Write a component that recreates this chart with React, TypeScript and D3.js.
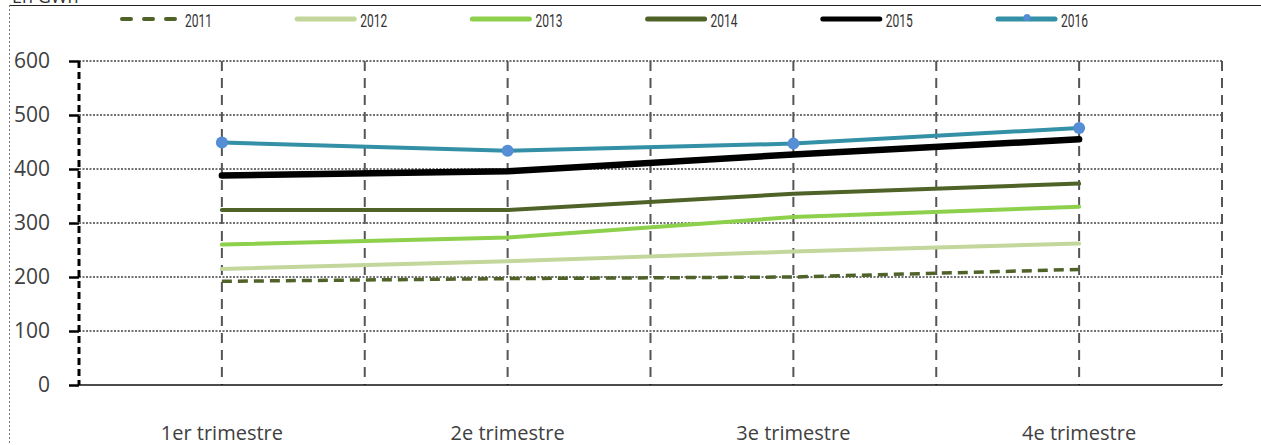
import React, { useEffect, useRef } from "react"
import * as d3 from "d3"

const quarters = ["1er trimestre", "2e trimestre", "3e trimestre", "4e trimestre"]
const years = ["2011", "2012", "2013", "2014", "2015", "2016"]
const values2011 = [192, 197, 200, 214]
const values2012 = [215, 229, 247, 262]
const values2013 = [260, 273, 311, 330]
const values2014 = [324, 324, 354, 373]
const values2015 = [388, 396, 427, 455]
const values2016 = [449, 434, 447, 476]
const yTicks = [0, 100, 200, 300, 400, 500, 600]

const seriesStyle: Record<string, { color: string; width: number; dash?: string; marker?: string }> = {
  "2011": { color: "#4f6228", width: 3.5, dash: "10,6" },
  "2012": { color: "#c3d69b", width: 4 },
  "2013": { color: "#8dd04c", width: 4 },
  "2014": { color: "#4f6228", width: 4 },
  "2015": { color: "#000000", width: 6.5 },
  "2016": { color: "#3390a6", width: 4, marker: "#558ed5" },
}

const W = 1261
const H = 445

export default function App() {
  const svgRef = useRef<SVGSVGElement>(null)

  useEffect(() => {
    document.body.style.margin = "0"
    if (!svgRef.current) return
    const svg = d3.select(svgRef.current)
    svg.selectAll("*").remove()

    const series = [values2011, values2012, values2013, values2014, values2015, values2016]
    const left = 79
    const right = 1222
    const top = 61
    const bottom = 385

    const x = d3.scaleBand<string>().domain(quarters).range([left, right]).padding(0)
    const y = d3.scaleLinear().domain([0, 600]).range([bottom, top])
    const cx = (q: string) => (x(q) || 0) + x.bandwidth() / 2

    // frame
    svg.append("line").attr("x1", 9).attr("x2", W).attr("y1", 5.5).attr("y2", 5.5)
      .attr("stroke", "#222").attr("stroke-width", 1.2)
    svg.append("line").attr("x1", 9.5).attr("x2", 9.5).attr("y1", 5).attr("y2", H)
      .attr("stroke", "#777").attr("stroke-width", 1).attr("stroke-dasharray", "2,2")
    svg.append("text").attr("x", 12).attr("y", 3).attr("font-family", "Open Sans")
      .attr("font-size", 18).attr("fill", "#333").text("En GWh")

    // horizontal grid
    yTicks.filter(t => t > 0).forEach(t => {
      svg.append("line").attr("x1", left).attr("x2", right)
        .attr("y1", y(t)).attr("y2", y(t))
        .attr("stroke", "#444").attr("stroke-width", 1.3).attr("stroke-dasharray", "2,1.5")
    })

    // vertical dashed grid
    const vx: number[] = []
    quarters.forEach(q => {
      vx.push(cx(q))
      vx.push((x(q) || 0) + x.bandwidth())
    })
    vx.forEach(v => {
      svg.append("line").attr("x1", v).attr("x2", v).attr("y1", top).attr("y2", bottom)
        .attr("stroke", "#555").attr("stroke-width", 2).attr("stroke-dasharray", "10,7")
    })

    // x axis line
    svg.append("line").attr("x1", left).attr("x2", right).attr("y1", bottom).attr("y2", bottom)
      .attr("stroke", "#111").attr("stroke-width", 1.5)

    // y axis
    const yAxis = svg.append("g").attr("transform", `translate(${left},0)`)
      .call(d3.axisLeft(y).tickValues(yTicks).tickSize(10).tickPadding(19))
    yAxis.select(".domain").remove()
    yAxis.append("line").attr("x1", 0).attr("x2", 0).attr("y1", top).attr("y2", bottom)
      .attr("stroke", "#000").attr("stroke-width", 3).attr("stroke-dasharray", "7,4")
    yAxis.selectAll(".tick line").attr("stroke", "#000").attr("stroke-width", 2.5)
    yAxis.selectAll(".tick text").attr("font-family", "Open Sans").attr("font-size", 21)
      .attr("fill", "#404040")

    // x labels
    quarters.forEach(q => {
      svg.append("text").attr("x", cx(q)).attr("y", 440).attr("text-anchor", "middle")
        .attr("font-family", "Open Sans").attr("font-size", 20).attr("fill", "#404040").text(q)
    })

    // lines
    const line = d3.line<number>().x((_, i) => cx(quarters[i])).y(d => y(d))
    years.forEach((yr, si) => {
      const st = seriesStyle[yr]
      svg.append("path").datum(series[si]).attr("d", line).attr("fill", "none")
        .attr("stroke", st.color).attr("stroke-width", st.width)
        .attr("stroke-linecap", st.dash ? "butt" : "round")
        .attr("stroke-dasharray", st.dash || null)
      if (st.marker) {
        series[si].forEach((v, i) => {
          svg.append("circle").attr("cx", cx(quarters[i])).attr("cy", y(v)).attr("r", 6)
            .attr("fill", st.marker!)
        })
      }
    })

    // legend
    const lg = d3.scalePoint<string>().domain(years).range([122, 998])
    years.forEach(yr => {
      const st = seriesStyle[yr]
      const lx = lg(yr) || 0
      svg.append("line").attr("x1", lx).attr("x2", lx + 57).attr("y1", 19).attr("y2", 19)
        .attr("stroke", st.color).attr("stroke-width", st.dash ? 4 : 5)
        .attr("stroke-linecap", "round")
        .attr("stroke-dasharray", st.dash ? "9,13" : null)
      if (st.marker) {
        svg.append("circle").attr("cx", lx + 29).attr("cy", 17.5).attr("r", 3.5).attr("fill", st.marker)
      }
      svg.append("text").attr("x", lx + 63).attr("y", 27)
        .attr("font-family", "Roboto").attr("font-size", 18).attr("fill", "#333")
        .attr("textLength", 27).attr("lengthAdjust", "spacingAndGlyphs").text(yr)
    })
  }, [])

  return (
    <svg ref={svgRef} width={W} height={H}
      style={{ position: "absolute", left: 0, top: 0, background: "#fff", display: "block" }} />
  )
}
